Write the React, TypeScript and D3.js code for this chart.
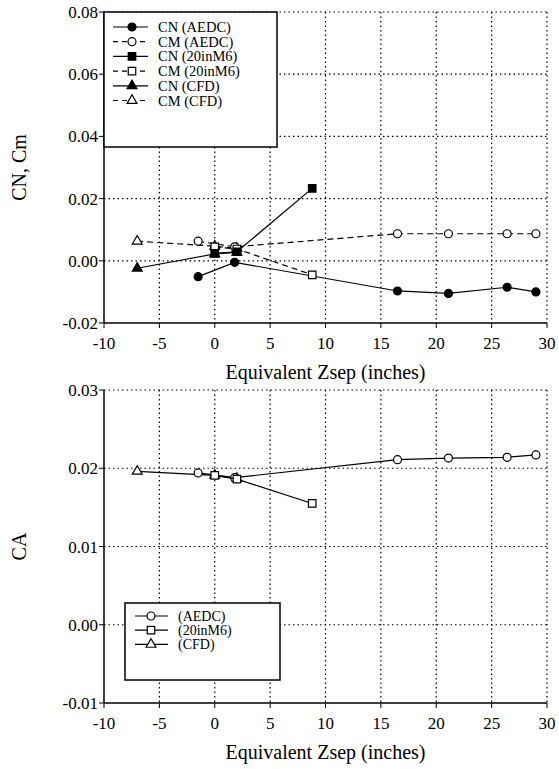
import React from 'react';
import * as d3 from 'd3';

// top panel: normal force and pitching moment
const zsepAedc = [-1.5, 1.8, 16.5, 21.1, 26.4, 29.0];
const cnAedc = [-0.0051, -0.0005, -0.0097, -0.0105, -0.0085, -0.01];
const cmAedc = [0.0063, 0.0045, 0.0087, 0.0087, 0.0087, 0.0087];
const zsep20 = [0, 2, 8.8];
const cn20 = [0.0024, 0.0029, 0.0233];
const cm20 = [0.0045, 0.0038, -0.0045];
const zsepCfd = [-7, 0, 2];
const cnCfd = [-0.0024, 0.0022, 0.0027];
const cmCfd = [0.0063, 0.0047, 0.004];

// bottom panel: axial force
const caAedc = [0.0194, 0.0188, 0.0211, 0.0213, 0.0214, 0.0217];
const ca20 = [0.0191, 0.0186, 0.0155];
const caCfd = [0.0196, 0.0191, 0.0187];

const xTicks = [-10, -5, 0, 5, 10, 15, 20, 25, 30];
const yTicksTop = [-0.02, 0, 0.02, 0.04, 0.06, 0.08];
const yTicksBot = [-0.01, 0, 0.01, 0.02, 0.03];

const topLegend = ['CN (AEDC)', 'CM (AEDC)', 'CN (20inM6)', 'CM (20inM6)', 'CN (CFD)', 'CM (CFD)'];
const botLegend = ['(AEDC)', '(20inM6)', '(CFD)'];

const txt = { fontFamily: '"Liberation Serif", "DejaVu Serif", serif' };
const L = 104, R = 547;

type Mark = 'circle' | 'square' | 'triangle';
const symType = { circle: d3.symbolCircle, square: d3.symbolSquare, triangle: d3.symbolTriangle };
const symSize = { circle: 50, square: 56, triangle: 42 };

const Marker = ({ x, y, m, filled }: { x: number; y: number; m: Mark; filled: boolean }) => (
  <path
    d={d3.symbol().type(symType[m]).size(symSize[m])() as string}
    transform={`translate(${x},${y})`}
    fill={filled ? 'black' : 'white'}
    stroke='black'
    strokeWidth={1.2}
  />
);

const Series = ({ xs, ys, x, y, m, filled, dashed }: any) => {
  const pts: [number, number][] = xs.map((v: number, i: number) => [x(v), y(ys[i])]);
  const line = d3.line()(pts) as string;
  return (
    <g>
      <path d={line} fill='none' stroke='black' strokeWidth={1.2} strokeDasharray={dashed ? '6,4' : undefined} />
      {pts.map((p, i) => (
        <Marker key={i} x={p[0]} y={p[1]} m={m} filled={filled} />
      ))}
    </g>
  );
};

const Panel = ({ top, bottom, domain, yTicks, label, fmt, children }: any) => {
  const x = d3.scaleLinear().domain([-10, 30]).range([L, R]);
  const y = d3.scaleLinear().domain(domain).range([bottom, top]);
  return (
    <g>
      {/* dotted grid */}
      {xTicks.slice(1).map((t) => (
        <line key={'gx' + t} x1={x(t)} x2={x(t)} y1={top} y2={bottom} stroke='black' strokeWidth={1.2} strokeDasharray='1.5,3' />
      ))}
      {yTicks.slice(1).map((t: number) => (
        <line key={'gy' + t} x1={L} x2={R} y1={y(t)} y2={y(t)} stroke='black' strokeWidth={1.2} strokeDasharray='1.5,3' />
      ))}
      {/* axes */}
      <line x1={L} x2={L} y1={top} y2={bottom} stroke='black' strokeWidth={1.5} />
      <line x1={L} x2={R} y1={bottom} y2={bottom} stroke='black' strokeWidth={1.5} />
      {yTicks.map((t: number) => (
        <g key={'ty' + t}>
          <line x1={L - 5} x2={L} y1={y(t)} y2={y(t)} stroke='black' />
          <text x={L - 6} y={y(t) + 6} textAnchor='end' style={txt} fontSize={17}>
            {fmt(t)}
          </text>
        </g>
      ))}
      {xTicks.map((t) => (
        <g key={'tx' + t}>
          <line x1={x(t)} x2={x(t)} y1={bottom} y2={bottom + 5} stroke='black' />
          <text x={x(t)} y={bottom + 26} textAnchor='middle' style={txt} fontSize={17}>
            {t}
          </text>
        </g>
      ))}
      <text x={(L + R) / 2} y={bottom + 56} textAnchor='middle' style={txt} fontSize={20}>
        Equivalent Zsep (inches)
      </text>
      <text transform={`translate(26,${(top + bottom) / 2}) rotate(-90)`} textAnchor='middle' style={txt} fontSize={20}>
        {label}
      </text>
      {children(x, y)}
    </g>
  );
};

const fmt = (t: number) => (t < 0 ? '-' : '') + Math.abs(t).toFixed(2);

const App = () => {
  const topMarks: [Mark, boolean, boolean][] = [
    ['circle', true, false],
    ['circle', false, true],
    ['square', true, false],
    ['square', false, true],
    ['triangle', true, false],
    ['triangle', false, true],
  ];
  const botMarks: Mark[] = ['circle', 'square', 'triangle'];
  return (
    <svg width={559} height={769} style={{ position: 'absolute', left: 0, top: 0, background: 'white' }}>
      <Panel top={12} bottom={323} domain={[-0.02, 0.08]} yTicks={yTicksTop} label='CN, Cm' fmt={fmt}>
        {(x: any, y: any) => (
          <g>
            <Series xs={zsepCfd} ys={cnCfd} x={x} y={y} m='triangle' filled dashed={false} />
            <Series xs={zsepCfd} ys={cmCfd} x={x} y={y} m='triangle' filled={false} dashed />
            <Series xs={zsepAedc} ys={cnAedc} x={x} y={y} m='circle' filled dashed={false} />
            <Series xs={zsepAedc} ys={cmAedc} x={x} y={y} m='circle' filled={false} dashed />
            <Series xs={zsep20} ys={cm20} x={x} y={y} m='square' filled={false} dashed />
            <Series xs={zsep20} ys={cn20} x={x} y={y} m='square' filled dashed={false} />
            <rect x={L} y={12} width={173} height={135} fill='white' stroke='black' strokeWidth={1.5} />
            {topLegend.map((s, i) => {
              const ly = 27 + i * 14.7;
              const [m, filled, dashed] = topMarks[i];
              return (
                <g key={s}>
                  <line x1={113} x2={148} y1={ly} y2={ly} stroke='black' strokeWidth={1.2} strokeDasharray={dashed ? '5,4' : undefined} />
                  <Marker x={132} y={ly} m={m} filled={filled} />
                  <text x={158} y={ly + 5} style={txt} fontSize={14.5}>
                    {s}
                  </text>
                </g>
              );
            })}
          </g>
        )}
      </Panel>
      <Panel top={390} bottom={703} domain={[-0.01, 0.03]} yTicks={yTicksBot} label='CA' fmt={fmt}>
        {(x: any, y: any) => (
          <g>
            <Series xs={zsepCfd} ys={caCfd} x={x} y={y} m='triangle' filled={false} dashed={false} />
            <Series xs={zsepAedc} ys={caAedc} x={x} y={y} m='circle' filled={false} dashed={false} />
            <Series xs={zsep20} ys={ca20} x={x} y={y} m='square' filled={false} dashed={false} />
            <rect x={125} y={603} width={155} height={77} fill='white' stroke='black' strokeWidth={1.5} />
            {botLegend.map((s, i) => {
              const ly = 616 + i * 14.2;
              return (
                <g key={s}>
                  <line x1={135} x2={168} y1={ly} y2={ly} stroke='black' strokeWidth={1.2} />
                  <Marker x={151} y={ly} m={botMarks[i]} filled={false} />
                  <text x={178} y={ly + 5} style={txt} fontSize={14}>
                    {s}
                  </text>
                </g>
              );
            })}
          </g>
        )}
      </Panel>
    </svg>
  );
};

export default App;
